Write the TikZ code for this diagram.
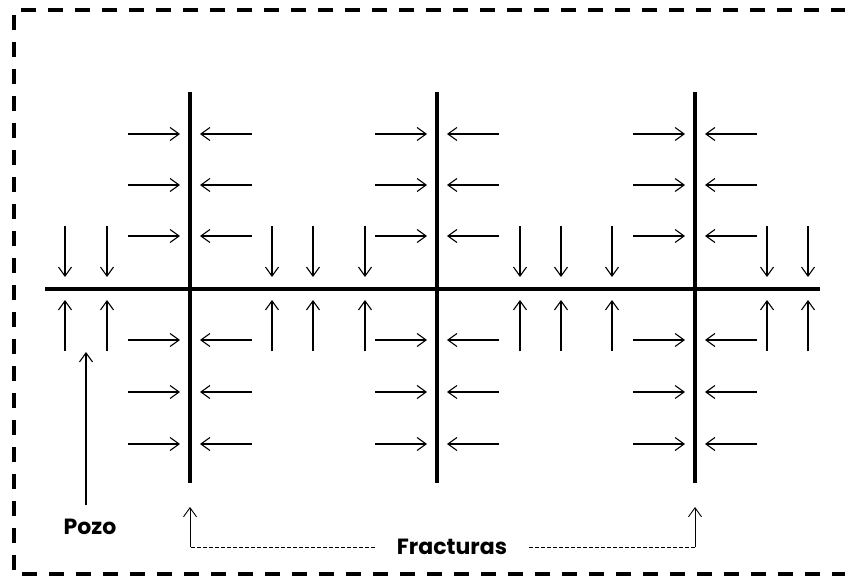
\documentclass[tikz,border=0pt]{standalone}
\usepackage{fontspec}
\setsansfont{Poppins}
\usetikzlibrary{arrows.meta, positioning}
\tikzset{
    % frame and main lines
    border/.style={
        line width=3.5pt,
        dash pattern=on 15pt off 12pt
    },
    well/.style={
        line width=3.5pt
    },
    fracture/.style={
        line width=3.8pt
    },
    % arrow styles
    flowarrow/.style={
        -{Straight Barb[length=9pt,width=13pt]},
        line width=1.1pt
    },
    bracket/.style={
        line width=0.8pt,
        dash pattern=on 3.5pt off 2.5pt
    },
    tag/.style={
        font=\sffamily\bfseries\fontsize{22}{24}\selectfont,
        inner sep=2pt
    }
}
\begin{document}
\begin{tikzpicture}[x=1pt, y=-1pt]
    \useasboundingbox (0,0) rectangle (845,577);
    \draw[border] (846,10) -- (14,10) -- (14,574) -- (846,574);

    % horizontal well
    \coordinate (w0) at (45,289);
    \coordinate (w1) at (820,289);
    \draw[well] (w0) -- (w1);

    % fractures with inflow from both sides
    \foreach \x [count=\i] in {190,437,695} {
        \coordinate (ft\i) at (\x,92);
        \coordinate (fb\i) at (\x,483);
        \draw[fracture] (ft\i) -- (fb\i);
        \foreach \y in {134,185,236,340,392,444} {
            \draw[flowarrow] ({\x-62},\y) -- ({\x-10},\y);
            \draw[flowarrow] ({\x+62},\y) -- ({\x+10},\y);
        }
    }

    % inflow to the well
    \foreach \x in {65,107,272,313,365,520,561,612,767,808} {
        \draw[flowarrow] (\x,226) -- (\x,277);
        \draw[flowarrow] (\x,351) -- (\x,300);
    }

    % labels
    \node[tag] (pozo) at (90,527) {Pozo};
    \coordinate (pozotail) at (86,505);
    \coordinate (pozotip) at (86,352);
    \draw[flowarrow] (pozotail) -- (pozotip);

    \node[tag, inner xsep=22pt] (fract) at (452,547) {Fracturas};
    \coordinate (bl) at (190,507);
    \coordinate (br) at (695,507);
    \draw[bracket] (fract.west) -- (fract.west -| bl);
    \draw[bracket] (fract.east) -- (fract.east -| br);
    \draw[flowarrow, line width=0.9pt] (fract.west -| bl) -- (bl);
    \draw[flowarrow, line width=0.9pt] (fract.east -| br) -- (br);
\end{tikzpicture}
\end{document}
